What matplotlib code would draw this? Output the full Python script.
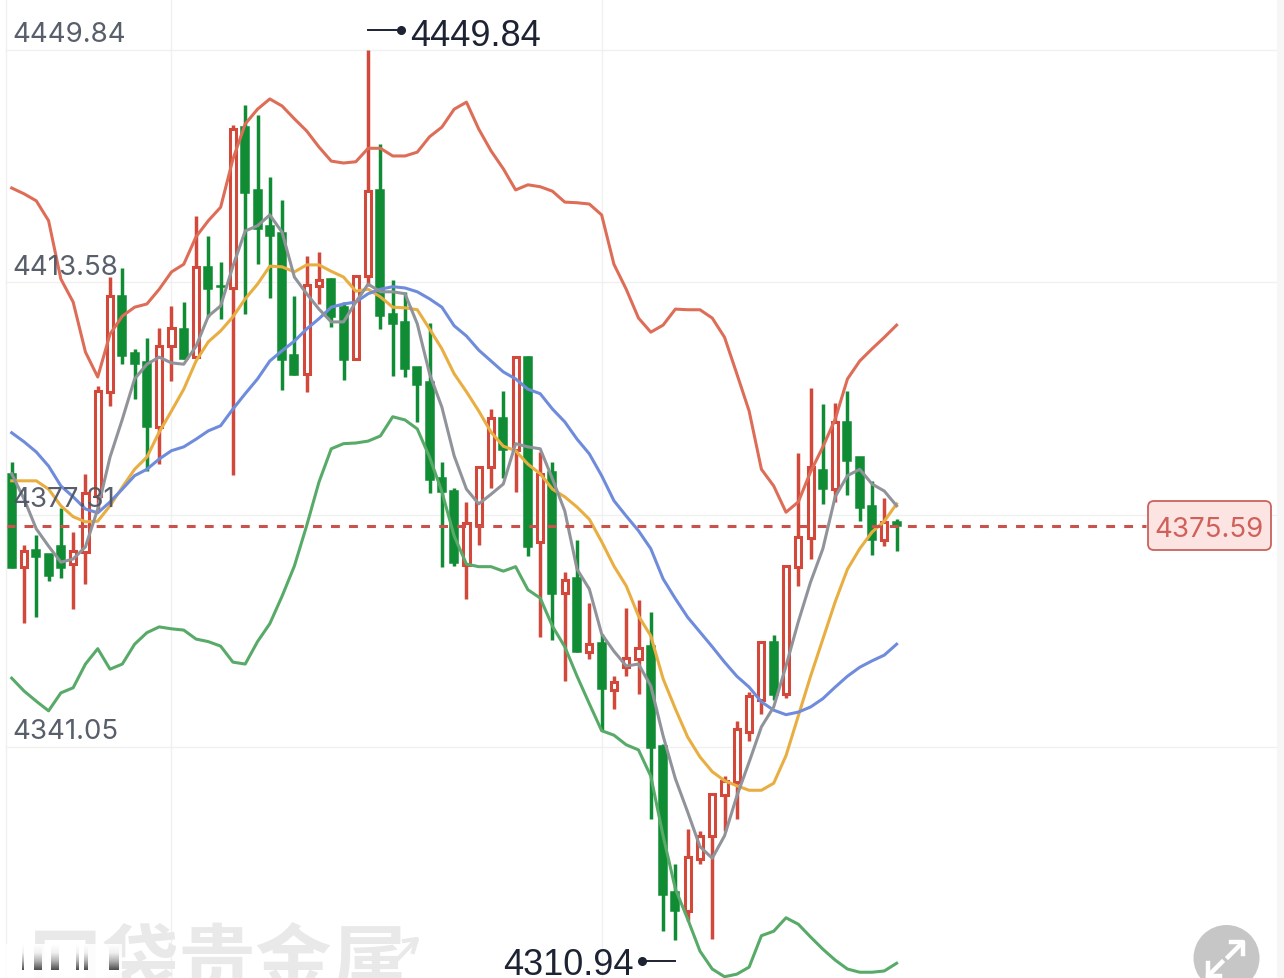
import numpy as np
import matplotlib
matplotlib.use('Agg')
import matplotlib.pyplot as plt
from matplotlib.patches import Circle, FancyBboxPatch, Rectangle
from matplotlib.colors import LinearSegmentedColormap

# OHLC of the 73 candles
opens = [4383.7, 4369.2, 4371.8, 4371.2, 4372.4, 4369.6, 4371.5, 4380.2, 4396.5, 4411.4,
         4402.6, 4401.1, 4391.0, 4403.6, 4406.3, 4401.9, 4416.0, 4413.0, 4412.7, 4437.8,
         4428.0, 4422.4, 4421.3, 4402.2, 4399.3, 4413.0, 4414.1, 4409.7, 4401.6, 4414.6,
         4428.0, 4408.6, 4407.4, 4400.4, 4398.0, 4383.0, 4381.0, 4369.5, 4375.7, 4384.8,
         4392.4, 4387.4, 4401.9, 4373.1, 4384.0, 4365.1, 4367.4, 4355.9, 4357.3, 4350.0,
         4353.5, 4354.8, 4356.8, 4341.2, 4318.4, 4315.5, 4323.6, 4327.2, 4333.6, 4335.6,
         4343.4, 4348.4, 4357.5, 4349.3, 4369.2, 4373.7, 4384.3, 4381.3, 4391.8, 4386.3,
         4378.7, 4373.4, 4376.2]
highs = [4385.5, 4372.6, 4374.1, 4371.2, 4378.4, 4374.6, 4383.7, 4397.4, 4414.4, 4415.8,
         4403.2, 4404.9, 4406.4, 4409.9, 4410.5, 4423.9, 4420.8, 4416.8, 4438.1, 4441.3,
         4439.7, 4430.0, 4426.4, 4411.4, 4417.7, 4418.3, 4414.3, 4410.5, 4414.6, 4449.84,
         4435.2, 4413.9, 4412.1, 4400.4, 4407.2, 4385.5, 4381.5, 4379.3, 4384.9, 4393.8,
         4396.6, 4401.9, 4402.1, 4387.1, 4385.5, 4368.4, 4373.4, 4363.5, 4358.7, 4352.1,
         4362.8, 4364.0, 4362.1, 4341.5, 4322.8, 4328.3, 4328.0, 4333.7, 4336.5, 4345.1,
         4349.6, 4357.5, 4358.5, 4369.3, 4386.9, 4397.1, 4394.6, 4394.7, 4396.6, 4386.3,
         4382.6, 4379.9, 4376.6]
lows = [4369.0, 4360.4, 4361.3, 4367.0, 4367.4, 4362.6, 4366.5, 4377.9, 4394.3, 4400.8,
        4395.4, 4384.1, 4385.2, 4398.2, 4401.6, 4401.9, 4408.2, 4407.9, 4383.5, 4408.6,
        4416.4, 4411.1, 4396.8, 4399.1, 4396.5, 4410.2, 4406.6, 4398.3, 4401.6, 4413.0,
        4406.3, 4399.0, 4398.8, 4391.8, 4380.7, 4369.2, 4369.3, 4364.2, 4372.6, 4381.5,
        4383.0, 4380.9, 4370.9, 4358.2, 4357.8, 4351.4, 4355.9, 4354.8, 4343.7, 4347.0,
        4352.1, 4349.3, 4329.8, 4312.3, 4310.94, 4313.9, 4322.8, 4311.1, 4328.0, 4329.8,
        4342.0, 4346.2, 4348.4, 4348.7, 4366.2, 4370.4, 4379.0, 4379.3, 4380.4, 4376.3,
        4371.0, 4372.4, 4371.6]
closes = [4369.0, 4371.6, 4370.7, 4367.7, 4369.0, 4371.6, 4380.7, 4396.6, 4411.4, 4402.1,
          4400.8, 4391.0, 4403.6, 4406.4, 4401.6, 4416.0, 4412.5, 4412.9, 4437.5, 4427.5,
          4421.9, 4420.8, 4401.5, 4399.1, 4413.2, 4413.9, 4408.2, 4401.5, 4414.6, 4427.8,
          4408.3, 4407.1, 4400.1, 4397.6, 4382.7, 4380.9, 4369.8, 4376.0, 4384.8, 4392.4,
          4387.4, 4401.9, 4372.3, 4383.7, 4364.9, 4367.1, 4355.9, 4357.1, 4350.1, 4351.2,
          4354.9, 4356.5, 4340.9, 4318.0, 4315.5, 4323.9, 4327.2, 4333.7, 4335.8, 4343.9,
          4349.0, 4357.5, 4349.2, 4369.3, 4373.8, 4384.8, 4381.3, 4391.8, 4385.7, 4378.4,
          4373.4, 4376.2, 4375.59]

# Bollinger bands
boll_upper = [4428.3, 4427.4, 4426.3, 4423.2, 4414.1, 4410.5, 4402.7, 4398.8, 4405.5, 4408.3,
              4409.7, 4410.2, 4412.5, 4415.2, 4416.4, 4420.7, 4423.2, 4425.3, 4432.8, 4438.3,
              4440.6, 4442.2, 4441.1, 4439.1, 4437.2, 4434.7, 4432.5, 4432.2, 4432.4, 4434.5,
              4434.5, 4433.3, 4433.3, 4433.9, 4436.3, 4437.8, 4440.6, 4441.7, 4437.5, 4434.1,
              4431.3, 4428.0, 4428.8, 4428.5, 4427.8, 4426.1, 4426.0, 4425.8, 4424.1, 4416.4,
              4412.5, 4408.0, 4405.8, 4406.9, 4409.4, 4409.3, 4409.3, 4408.0, 4405.0, 4399.3,
              4393.5, 4384.4, 4381.8, 4377.7, 4379.3, 4384.0, 4387.9, 4392.2, 4398.5, 4401.3,
              4403.2, 4405.0, 4406.9]
boll_lower = [4351.8, 4349.8, 4348.2, 4346.7, 4349.5, 4350.3, 4354.0, 4356.4, 4353.2, 4354.0,
              4357.1, 4358.9, 4359.8, 4359.5, 4359.3, 4357.9, 4357.5, 4356.8, 4354.3, 4354.0,
              4357.5, 4360.3, 4364.6, 4369.3, 4375.6, 4382.4, 4387.6, 4388.4, 4388.5, 4388.8,
              4389.6, 4392.6, 4392.1, 4390.7, 4386.3, 4380.9, 4374.0, 4369.6, 4369.2, 4369.2,
              4368.5, 4369.2, 4365.6, 4364.3, 4359.9, 4356.7, 4352.1, 4347.8, 4343.6, 4342.9,
              4341.4, 4340.6, 4336.5, 4327.2, 4318.9, 4314.2, 4309.2, 4306.4, 4305.2, 4305.6,
              4306.7, 4311.6, 4312.3, 4314.4, 4313.4, 4311.4, 4309.5, 4307.8, 4306.4, 4305.9,
              4305.9, 4306.1, 4307.3]

# moving averages
ma_grey = [4383.7, 4379.8, 4375.1, 4372.4, 4369.9, 4370.4, 4372.3, 4378.2, 4386.3, 4392.2,
           4398.5, 4400.8, 4401.9, 4401.0, 4400.8, 4403.6, 4408.3, 4409.9, 4416.1, 4421.6,
           4422.4, 4424.1, 4421.4, 4414.4, 4411.8, 4409.4, 4407.4, 4407.4, 4410.5, 4413.3,
           4412.1, 4412.1, 4411.8, 4407.1, 4399.3, 4394.1, 4386.5, 4381.3, 4379.0, 4380.5,
           4382.1, 4388.4, 4387.9, 4387.6, 4382.9, 4377.9, 4368.8, 4365.7, 4358.7, 4356.0,
           4353.7, 4354.0, 4350.6, 4342.8, 4336.1, 4330.9, 4325.5, 4323.7, 4327.2, 4333.4,
           4338.7, 4344.2, 4347.3, 4353.7, 4360.6, 4366.8, 4372.0, 4380.1, 4383.4, 4384.4,
           4382.1, 4381.0, 4378.7]
ma_orange = [4382.6, 4382.6, 4382.6, 4381.3, 4378.7, 4377.0, 4376.2, 4376.3, 4378.7, 4381.6,
             4384.4, 4386.3, 4390.2, 4393.5, 4396.9, 4401.3, 4404.3, 4406.0, 4408.2, 4411.0,
             4413.3, 4416.1, 4416.0, 4415.2, 4416.3, 4416.3, 4415.3, 4414.4, 4412.2, 4412.5,
             4411.3, 4409.7, 4409.6, 4409.3, 4406.3, 4403.2, 4399.3, 4396.5, 4393.5, 4390.2,
             4388.0, 4387.3, 4385.2, 4383.7, 4381.3, 4380.1, 4378.5, 4376.6, 4373.1, 4369.3,
             4366.2, 4361.5, 4358.4, 4351.7, 4347.0, 4342.6, 4339.5, 4337.2, 4335.8, 4335.0,
             4334.3, 4334.3, 4335.4, 4339.7, 4345.9, 4352.1, 4357.9, 4363.7, 4368.8, 4372.0,
             4374.6, 4376.3, 4379.0]
ma_blue = [4390.1, 4388.7, 4387.1, 4384.9, 4381.8, 4380.1, 4378.2, 4377.6, 4379.3, 4381.3,
           4383.4, 4384.4, 4386.0, 4387.3, 4387.9, 4389.1, 4390.4, 4391.2, 4393.8, 4396.2,
           4398.5, 4401.3, 4402.9, 4404.4, 4406.3, 4407.9, 4409.7, 4410.2, 4410.5, 4411.8,
           4412.5, 4412.9, 4412.7, 4412.1, 4411.0, 4409.7, 4406.8, 4405.2, 4403.0, 4401.3,
           4399.6, 4398.5, 4396.9, 4396.2, 4393.8, 4391.8, 4389.1, 4386.8, 4383.4, 4379.5,
           4377.1, 4374.8, 4372.0, 4367.3, 4364.2, 4361.3, 4359.0, 4356.7, 4354.3, 4352.1,
           4350.4, 4348.1, 4346.8, 4346.1, 4346.5, 4347.3, 4348.6, 4350.4, 4352.1, 4353.5,
           4354.5, 4355.4, 4357.1]

grid_prices = [4449.84, 4413.58, 4377.31, 4341.05]
grid_labels = ['4449.84', '4413.58', '4377.31', '4341.05']
grid_candles = [13, 48]
last_price = 4375.59
high_label = '4449.84'
low_label = '4310.94'
watermark = '口袋贵金属'

RED = '#d2493c'
GREEN = '#108c34'
W, H = 1284, 979

fig = plt.figure(figsize=(W / 100, H / 100), dpi=100, facecolor='white')

# price chart fills the whole picture
ax = fig.add_axes([0, 0, 1, 1])
ax.set_xlim(-0.952, 103.52)
ax.set_ylim(4305.0, 4457.8)
ax.axis('off')

for p in grid_prices:
    ax.plot([-0.45, 102.85], [p, p], color='#f0f0f0', lw=1, zorder=1)
for c in grid_candles:
    ax.axvline(c, color='#f0f0f0', lw=1, zorder=1)

# watermark sits under the candles
ax.text(-0.952 + 27 / 12.29, 4305.0 + 52 * 0.15607, watermark, family='Noto Sans CJK SC', fontsize=55,
        fontweight='bold', color='#e9e9e9', va='top', ha='left', zorder=1.5, clip_on=True)

# candles
for i in range(len(opens)):
    o, h, l, c = opens[i], highs[i], lows[i], closes[i]
    top, bot = max(o, c), min(o, c)
    if c >= o:
        ax.vlines(i, top, h, color=RED, lw=2.5, zorder=2)
        ax.vlines(i, l, bot, color=RED, lw=2.5, zorder=2)
        ax.bar(i, top - bot, bottom=bot, width=0.5, facecolor='white', edgecolor=RED, linewidth=2.2, zorder=3)
    else:
        ax.vlines(i, l, h, color=GREEN, lw=2.5, zorder=2)
        ax.bar(i, top - bot, bottom=bot, width=0.65, facecolor=GREEN, edgecolor=GREEN, linewidth=1.1, zorder=3)

xs = np.arange(len(opens))
ax.plot(xs, boll_upper, color='#de6d58', lw=2.2, zorder=4, solid_joinstyle='round')
ax.plot(xs, boll_lower, color='#58aa68', lw=2.2, zorder=4, solid_joinstyle='round')
ax.plot(xs, ma_orange, color='#e9ae42', lw=2.2, zorder=5, solid_joinstyle='round')
ax.plot(xs, ma_blue, color='#6f8cdc', lw=2.2, zorder=6, solid_joinstyle='round')
ax.plot(xs, ma_grey, color='#90949a', lw=2.2, zorder=7, solid_joinstyle='round')

# last price line
ax.plot([-0.45, 92.3], [last_price, last_price], color='#c9524c', lw=2.2, dashes=(2.9, 3.0), zorder=8)

# overlay in picture pixels for the labels and widgets
ov = fig.add_axes([0, 0, 1, 1], facecolor='none')
ov.axis('off')

ov.plot([6, 6], [0, H], color='#f0f0f0', lw=1)
ov.add_patch(Rectangle((1277, 0), 7, H, facecolor='#f6f6f6', edgecolor='none'))

for label, base in zip(grid_labels, [42, 275, 507, 739]):
    ov.text(12, base, label, family='Inter', fontsize=19.9, color='#4f5663', va='baseline', ha='left', alpha=0.95)

# high and low marks
ov.plot([368, 401], [31, 31], color='#1d2333', lw=1.4)
ov.plot([401], [31], 'o', color='#1d2333', ms=5.5)
ov.text(410, 45.5, high_label, family='Liberation Sans', fontsize=26, color='#1d2333', va='baseline', ha='left')
ov.plot([642, 675], [962, 962], color='#1d2333', lw=1.4)
ov.plot([642], [962], 'o', color='#1d2333', ms=5.5)
ov.text(503, 975, low_label, family='Liberation Sans', fontsize=26, color='#1d2333', va='baseline', ha='left')

# last price tag
ov.add_patch(FancyBboxPatch((1151, 505), 117, 43, boxstyle='round,pad=3,rounding_size=6',
                            facecolor='#fbe4e2', edgecolor='#c9625e', lw=1.3, zorder=9))
ov.text(1209.5, 527.5, '4375.59', family='Inter', fontsize=19.9, color='#d0605a', va='center_baseline',
        ha='center', zorder=10)

# arrow tail on the watermark
ov.plot([392, 416], [966, 941], color='#e9e9e9', lw=3, zorder=1)
ov.plot([404, 417, 413], [942, 940, 953], color='#e9e9e9', lw=3, zorder=1)

# blurred bars over the watermark at bottom left
ov.add_patch(Rectangle((6, 945), 116, 34, facecolor='white', edgecolor='none', alpha=0.88, zorder=9))
fade = LinearSegmentedColormap.from_list('fade', ['#ffffff', '#f0f0f0', '#b0b0b0', '#505050'])
ramp = np.linspace(0, 1, 30).reshape(-1, 1)
for bx, bw in [(23, 2), (38, 8), (55, 8), (77, 3), (86, 4), (114, 10)]:
    ov.imshow(ramp, cmap=fade, extent=(bx - bw / 2, bx + bw / 2, 971, 945), aspect='auto', zorder=10)

# expand button, cut by the lower edge
ov.add_patch(Circle((1226.5, 959), 33, facecolor='#c6c6c6', edgecolor='none', zorder=9))
ov.plot([1228, 1242], [958, 944], color='white', lw=3.2, zorder=10)
ov.plot([1231, 1243, 1243], [943, 943, 955], color='white', lw=3.2, zorder=10)
ov.plot([1222, 1209], [963, 976], color='white', lw=3.2, zorder=10)
ov.plot([1208, 1208], [964, 977], color='white', lw=3.2, zorder=10)
ov.plot([1208, 1220], [977, 977], color='white', lw=3.2, zorder=10)

ov.set_xlim(0, W)
ov.set_ylim(H, 0)

fig.savefig('out.png', dpi=100)
